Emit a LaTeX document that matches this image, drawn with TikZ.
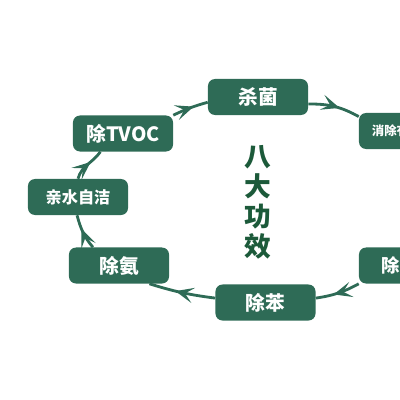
\documentclass[tikz,border=0pt]{standalone}
\usepackage{fontspec}
\setmainfont{Noto Sans CJK SC}
\usetikzlibrary{arrows.meta,decorations.markings}
\definecolor{leafGreen}{HTML}{2E6B56}
\definecolor{deepGreen}{HTML}{1C5A3A}

\begin{document}
\begin{tikzpicture}[x=0.025cm,y=-0.025cm,
    pill/.style={fill=leafGreen,rounded corners=5pt,minimum width=2.5cm,minimum height=0.9cm,inner sep=2pt,text=white},
    flow/.style={color=leafGreen,line width=2pt,postaction={decorate},
      decoration={markings,mark=at position 0.6 with {\arrow{Stealth[length=13pt,width=11pt,inset=6pt]}}}}]
  \useasboundingbox (0,0) rectangle (400,400);
  \node[pill,font=\bfseries\fontsize{14}{16}\selectfont] (jun) at (258,97) {杀菌};
  \node[pill,font=\bfseries\fontsize{8.8}{10}\selectfont] (youhai) at (409,131) {消除有害气体};
  \node[pill,font=\bfseries\fontsize{13}{15}\selectfont] (jiaquan) at (409,265.5) {除甲醛};
  \node[pill,font=\bfseries\fontsize{14}{16}\selectfont] (ben) at (265.5,302.5) {除苯};
  \node[pill,font=\bfseries\fontsize{14}{16}\selectfont] (an) at (119,265.5) {除氨};
  \node[pill,font=\bfseries\fontsize{11.5}{13}\selectfont] (jie) at (78,197) {亲水自洁};
  \node[pill,font=\bfseries\fontsize{14}{16}\selectfont] (tvoc) at (123,133.5) {除TVOC};
  \node[text=deepGreen,font=\bfseries\fontsize{19}{21.3}\selectfont,align=center] (title) at (258,202) {八\\大\\功\\效};
  \draw[flow] (tvoc.20) to[bend left=5] (jun.186);
  \draw[flow] (jun.-8) to[bend left=15] (youhai.164);
  \draw[flow] (jiaquan.200) to[bend left=10] (ben.5);
  \draw[flow] (ben.175) to[bend left=5] (an.-31);
  \draw[flow] (an.145) to[out=130,in=-75] (jie.267);
  \draw[flow] (jie.90) to[out=75,in=235] (tvoc.219);
\end{tikzpicture}
\end{document}
